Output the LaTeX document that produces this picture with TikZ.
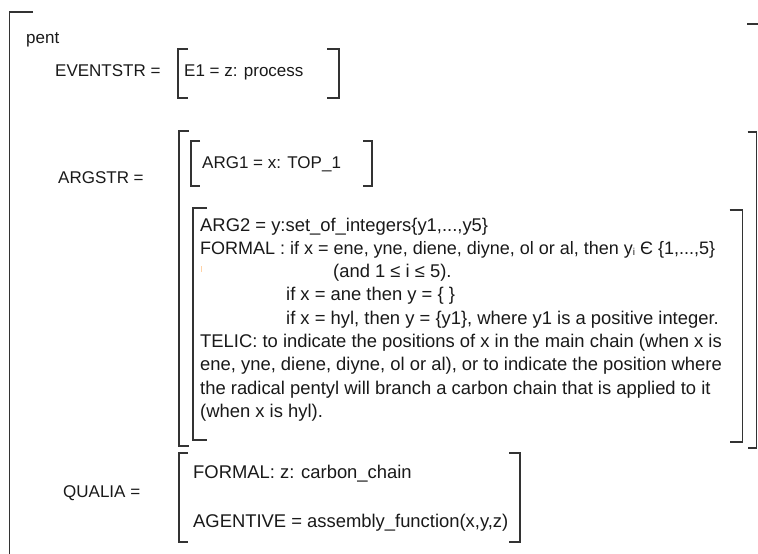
\documentclass[tikz,border=0pt]{standalone}
\usepackage{fontspec}
\setmainfont{Liberation Sans}
% square brackets of an attribute-value matrix: x, top, bottom, tick length
\newcommand\bracketL[4]{\draw[brk] ({#1+#4},#2) -- (#1,#2) -- (#1,#3) -- ({#1+#4},#3);}
\newcommand\bracketR[4]{\draw[brk] ({#1-#4},#2) -- (#1,#2) -- (#1,#3) -- ({#1-#4},#3);}
\newcommand\subi{{\fontsize{10}{10}\selectfont\raisebox{-1pt}{i}}}
\begin{document}
\begin{tikzpicture}[x=1pt,y=-1pt,
  brk/.style={line width=1.7pt, draw=black!80, line join=miter},
  lbl/.style={anchor=base west, inner sep=0pt, text=black!90,
              font=\fontsize{17}{20}\selectfont},
  body/.style={anchor=base west, inner sep=0pt, text=black!90,
               font=\fontsize{18.4}{22}\selectfont}]
\useasboundingbox (0,0) rectangle (758,554);

% outer matrix
\draw[brk] (33,12) -- (9.5,12) -- (9.5,560);
\draw[brk] (747,24) -- (760,24);
\node[lbl] (pent) at (26,43) {pent};

% event structure
\node[lbl] (evlbl) at (55,76) {EVENTSTR =};
\bracketL{178}{49}{98}{10}
\bracketR{339}{49}{98}{12}
\node[lbl] (e1) at (184,76) {E1 = z: process};

% argument structure
\node[lbl] (arglbl) at (58,183) {ARGSTR =};
\bracketL{179}{131}{446}{10}
\bracketR{756.5}{132}{448}{9}

\bracketL{191}{141}{186}{9}
\bracketR{372}{141}{186}{9}
\node[lbl] (arg1) at (202,168) {ARG1 = x: TOP\_1};

\bracketL{193}{208}{440}{14}
\bracketR{742.5}{210}{442}{13}
\node[body] (a2l1) at (200,231.0) {ARG2 = y:set\_of\_integers\{y1,...,y5\}};
\node[body, font=\fontsize{18}{22}\selectfont] (a2l2) at (200,254.3)
  {FORMAL : if x = ene, yne, diene, diyne, ol or al, then y\subi\ Є \{1,...,5\}};
\node[body] (a2l3) at (333,277.6) {(and 1 ≤ i ≤ 5).};
\node[body] (a2l4) at (286,300.9) {if x = ane then y = \{ \}};
\node[body] (a2l5) at (286,324.2) {if x = hyl, then y = \{y1\}, where y1 is a positive integer.};
\node[body] (a2l6) at (200,347.5) {TELIC: to indicate the positions of x in the main chain (when x is};
\node[body] (a2l7) at (200,370.8) {ene, yne, diene, diyne, ol or al), or to indicate the position where};
\node[body] (a2l8) at (200,394.1) {the radical pentyl will branch a carbon chain that is applied to it};
\node[body] (a2l9) at (200,417.4) {(when x is hyl).};
\draw[line width=1pt, draw=orange!35] (201.5,266) -- (201.5,272);

% qualia structure
\node[lbl] (qlbl) at (63,497) {QUALIA =};
\bracketL{179}{453}{542}{9}
\bracketR{520}{453}{542}{11}
\node[body] (qf) at (193,478) {FORMAL: z: carbon\_chain};
\node[body] (qa) at (193,527) {AGENTIVE = assembly\_function(x,y,z)};
\end{tikzpicture}
\end{document}
